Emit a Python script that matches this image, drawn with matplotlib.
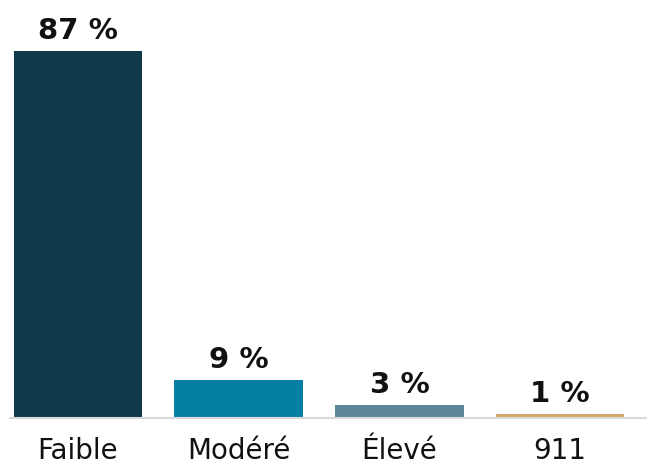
import matplotlib
matplotlib.use('Agg')
import matplotlib.pyplot as plt

# ── Data ──
categories = ['Faible', 'Modéré', 'Élevé', '911']
values = [87, 9, 3, 1]
labels = ['87 %', '9 %', '3 %', '1 %']
colors = ['#103a4b', '#0580a4', '#5b8797', '#d6a96b']

plt.rcParams['font.family'] = ['DejaVu Sans']

fig = plt.figure(figsize=(6.47, 4.64), dpi=100)
ax = fig.add_axes([0, 45 / 464, 1, 419 / 464])

x = range(len(categories))
bars = ax.bar(x, values, width=0.8, color=colors)

for b, lbl in zip(bars, labels):
    ax.annotate(lbl, (b.get_x() + b.get_width() / 2, b.get_height()),
                xytext=(0, 9.5), textcoords='offset points',
                ha='center', va='baseline', fontsize=21, fontweight='bold',
                color='#111111')

ax.set_xlim(-0.485, 3.54)
ax.set_ylim(0, 99.3)
ax.set_xticks(list(x))
ax.set_xticklabels(categories, fontsize=20, color='#111111')
ax.tick_params(axis='x', length=0, pad=13)
ax.set_yticks([])
for s in ['top', 'right', 'left']:
    ax.spines[s].set_visible(False)
ax.spines['bottom'].set_color('#d9d9d9')
ax.spines['bottom'].set_linewidth(1.5)
ax.spines['bottom'].set_bounds(-0.42, 3.54)

fig.savefig('out.png', dpi=100, facecolor='white')
